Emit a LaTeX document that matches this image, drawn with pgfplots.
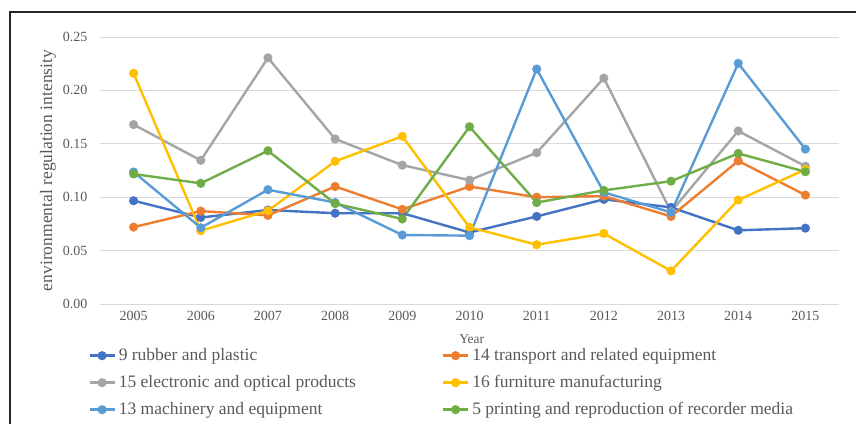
\documentclass[border=0pt]{standalone}
\usepackage{pgfplots}
\pgfplotsset{compat=1.18}
\usepackage{fontspec}
\setmainfont{Liberation Serif}
\definecolor{c1}{HTML}{4472C4}
\definecolor{c2}{HTML}{ED7D31}
\definecolor{c3}{HTML}{A5A5A5}
\definecolor{c4}{HTML}{FFC000}
\definecolor{c5}{HTML}{5B9BD5}
\definecolor{c6}{HTML}{70AD47}
\definecolor{txt}{HTML}{595959}
\begin{document}
\begin{tikzpicture}
\path[use as bounding box] (0,0) rectangle (856bp,424bp);
\draw[line width=2.2bp, black!85] (10bp,0) -- (10bp,412bp) -- (856bp,412bp);
\begin{axis}[
  at={(100bp,120bp)}, anchor=south west,
  scale only axis, width=739bp, height=267bp,
  xmin=2004.5, xmax=2015.5, ymin=0, ymax=0.25,
  xtick={2005,2006,2007,2008,2009,2010,2011,2012,2013,2014,2015},
  ytick={0,0.05,0.1,0.15,0.2,0.25},
  /pgf/number format/assume math mode=true,
  x tick label style={/pgf/number format/1000 sep={}, yshift=-4bp},
  y tick label style={/pgf/number format/fixed, /pgf/number format/fixed zerofill, /pgf/number format/precision=2, xshift=-9bp},
  axis line style={draw=none},
  major tick length=0pt,
  ymajorgrids, grid style={color=black!15, line width=0.9bp},
  tick label style={font=\fontsize{14bp}{16bp}\selectfont, text=txt},
  xlabel={Year},
  xlabel style={font=\fontsize{13.5bp}{15bp}\selectfont, text=txt, at={(rel axis cs:0.503,-0.13)}, anchor=center},
  ylabel={environmental regulation intensity},
  ylabel style={font=\fontsize{17.5bp}{20bp}\selectfont, text=txt, at={(rel axis cs:-0.0704,0.5)}, anchor=center},
  legend columns=2,
  legend style={at={(rel axis cs:-0.016,-0.161)}, anchor=north west, draw=none, fill=none, inner sep=0pt,
    font=\fontsize{17.5bp}{20bp}\selectfont, text=txt, row sep=10bp,
    nodes={inner sep=0pt, text height=13bp, text depth=4bp}},
  legend cell align=left,
  /tikz/every even column/.append style={column sep=86bp},
  /tikz/every odd column/.append style={column sep=3bp},
  legend image code/.code={\draw[#1, mark repeat=2, mark phase=2] plot coordinates {(0bp,0bp) (12.5bp,0bp) (25bp,0bp)};},
  every axis plot/.append style={line width=2.4bp, mark=*, mark size=3.3bp},
]
\addplot[c1, mark options={solid, fill=c1}] coordinates {
(2005,0.0967) (2006,0.081) (2007,0.088) (2008,0.085) (2009,0.085) (2010,0.067) (2011,0.082) (2012,0.098) (2013,0.0905) (2014,0.069) (2015,0.071)};
\addlegendentry{9 rubber and plastic}
\addplot[c2, mark options={solid, fill=c2}] coordinates {
(2005,0.072) (2006,0.087) (2007,0.083) (2008,0.110) (2009,0.0886) (2010,0.110) (2011,0.100) (2012,0.101) (2013,0.082) (2014,0.134) (2015,0.102)};
\addlegendentry{14 transport and related equipment}
\addplot[c3, mark options={solid, fill=c3}] coordinates {
(2005,0.168) (2006,0.1345) (2007,0.2305) (2008,0.1545) (2009,0.130) (2010,0.116) (2011,0.1416) (2012,0.2115) (2013,0.0864) (2014,0.162) (2015,0.129)};
\addlegendentry{15 electronic and optical products}
\addplot[c4, mark options={solid, fill=c4}] coordinates {
(2005,0.216) (2006,0.0686) (2007,0.0873) (2008,0.1336) (2009,0.157) (2010,0.0718) (2011,0.0555) (2012,0.066) (2013,0.031) (2014,0.0973) (2015,0.126)};
\addlegendentry{16 furniture manufacturing}
\addplot[c5, mark options={solid, fill=c5}] coordinates {
(2005,0.1236) (2006,0.0714) (2007,0.107) (2008,0.095) (2009,0.0646) (2010,0.064) (2011,0.220) (2012,0.1045) (2013,0.0858) (2014,0.2253) (2015,0.145)};
\addlegendentry{13 machinery and equipment}
\addplot[c6, mark options={solid, fill=c6}] coordinates {
(2005,0.1217) (2006,0.113) (2007,0.1435) (2008,0.094) (2009,0.0796) (2010,0.166) (2011,0.095) (2012,0.1064) (2013,0.115) (2014,0.141) (2015,0.1238)};
\addlegendentry{5 printing and reproduction of recorder media}
\end{axis}
\end{tikzpicture}
\end{document}
